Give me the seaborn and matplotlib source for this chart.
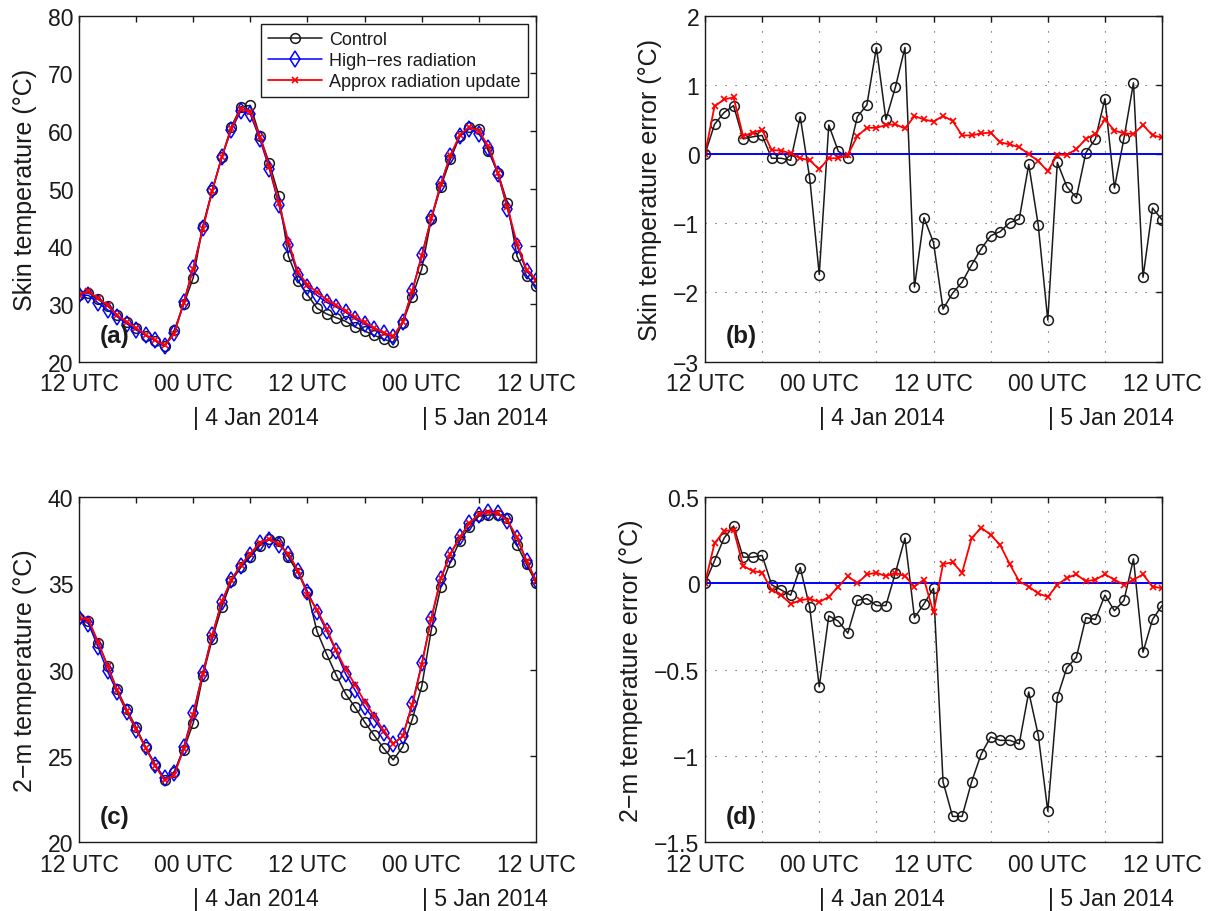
import numpy as np
import matplotlib
matplotlib.use("Agg")
import matplotlib.pyplot as plt
from matplotlib.ticker import FuncFormatter
import seaborn as sns

# hours after 12 UTC 3 Jan 2014, hourly output
hours = np.arange(49)

# skin temperature from the high-res radiation run (degC)
skin_hires = [31.6, 31.5, 30.2, 29.0, 27.8, 26.6, 25.5, 24.6, 23.7, 22.8,
              24.9, 30.3, 36.3, 43.1, 49.7, 55.5, 60.2, 63.5, 62.9, 58.6,
              53.4, 47.2, 40.2, 35.0, 32.9, 31.5, 30.3, 29.5, 28.6, 27.4,
              26.5, 25.7, 24.9, 24.3, 26.9, 32.3, 38.5, 44.9, 50.8, 55.7,
              59.1, 60.4, 59.5, 57.0, 52.5, 46.5, 40.1, 35.7, 34.0]
# errors relative to high-res run (panel b)
skin_err_control = [0.0, 0.43, 0.60, 0.70, 0.22, 0.25, 0.27, -0.06, -0.06, -0.09,
                    0.54, -0.35, -1.74, 0.42, 0.04, -0.05, 0.54, 0.71, 1.54, 0.50,
                    0.97, 1.54, -1.92, -0.92, -1.28, -2.24, -2.01, -1.85, -1.60, -1.37,
                    -1.18, -1.12, -0.99, -0.94, -0.15, -1.03, -2.40, -0.12, -0.47, -0.63,
                    0.02, 0.22, 0.80, -0.49, 0.23, 1.03, -1.78, -0.78, -0.95]
skin_err_approx = [0.0, 0.69, 0.79, 0.82, 0.26, 0.31, 0.35, 0.06, 0.05, 0.01,
                   -0.06, -0.09, -0.22, -0.06, -0.06, -0.01, 0.26, 0.38, 0.38, 0.42,
                   0.43, 0.37, 0.55, 0.50, 0.47, 0.55, 0.48, 0.27, 0.27, 0.30,
                   0.31, 0.17, 0.14, 0.10, 0.00, -0.10, -0.25, -0.01, -0.01, 0.07,
                   0.22, 0.29, 0.50, 0.34, 0.30, 0.29, 0.42, 0.27, 0.24]

# 2-m temperature from the high-res radiation run (degC)
t2m_hires = [33.0, 32.65, 31.3, 29.9, 28.7, 27.55, 26.5, 25.5, 24.5, 23.7,
             24.0, 25.5, 27.5, 29.8, 32.0, 33.9, 35.2, 36.0, 36.65, 37.3,
             37.5, 37.2, 36.7, 35.7, 34.5, 33.35, 32.25, 31.05, 29.75, 28.8,
             27.85, 27.1, 26.35, 25.7, 26.15, 28.0, 30.35, 32.95, 35.25, 36.65,
             37.65, 38.45, 38.95, 39.1, 39.05, 38.6, 37.6, 36.3, 35.15]
# errors relative to high-res run (panel d)
t2m_err_control = [0.0, 0.13, 0.26, 0.33, 0.15, 0.15, 0.16, -0.01, -0.04, -0.07,
                   0.09, -0.14, -0.60, -0.19, -0.22, -0.29, -0.10, -0.09, -0.13, -0.13,
                   0.06, 0.26, -0.20, -0.12, -0.03, -1.15, -1.35, -1.35, -1.15, -0.99,
                   -0.89, -0.91, -0.91, -0.93, -0.63, -0.88, -1.32, -0.66, -0.49, -0.43,
                   -0.20, -0.21, -0.07, -0.16, -0.10, 0.14, -0.40, -0.21, -0.13]
t2m_err_approx = [0.0, 0.23, 0.30, 0.31, 0.10, 0.07, 0.06, -0.04, -0.07, -0.12,
                  -0.10, -0.09, -0.11, -0.08, -0.02, 0.04, 0.00, 0.05, 0.06, 0.04,
                  0.06, 0.04, -0.02, 0.02, -0.17, 0.11, 0.12, 0.06, 0.26, 0.32,
                  0.28, 0.22, 0.11, 0.01, -0.02, -0.06, -0.08, -0.01, 0.03, 0.05,
                  0.01, 0.02, 0.05, 0.02, -0.01, 0.02, 0.05, -0.02, -0.03]

xtick_hours = [0, 6, 12, 18, 24, 30, 36, 42, 48]
xtick_labels = ["12 UTC", "", "00 UTC", "", "12 UTC", "", "00 UTC", "", "12 UTC"]
date_hours = [12, 36]
date_labels = ["| 4 Jan 2014", "| 5 Jan 2014"]
series_names = ["Control", "High\u2212res radiation", "Approx radiation update"]

# control / approx = high-res + their error
skin_hires = np.array(skin_hires)
t2m_hires = np.array(t2m_hires)
skin_control = skin_hires + np.array(skin_err_control)
skin_approx = skin_hires + np.array(skin_err_approx)
t2m_control = t2m_hires + np.array(t2m_err_control)
t2m_approx = t2m_hires + np.array(t2m_err_approx)

sns.set_theme(style="white")
plt.rcParams["font.family"] = ["Liberation Sans", "DejaVu Sans"]
plt.rcParams["axes.unicode_minus"] = True

TICK_FS = 16.6
LABEL_FS = 18


def draw_three(ax, control, hires, approx, hires_markers=True, labels=None):
    labels = labels or [None, None, None]
    sns.lineplot(x=hours, y=control, ax=ax, color="k", linewidth=1.1,
                 marker="o", markersize=7, markerfacecolor="none",
                 markeredgecolor="k", markeredgewidth=1.1, errorbar=None,
                 label=labels[0])
    if hires_markers:
        sns.lineplot(x=hours, y=hires, ax=ax, color="#0000ff", linewidth=1.1,
                     marker="d", markersize=8, markerfacecolor="none",
                     markeredgecolor="#0000ff", markeredgewidth=1.1,
                     errorbar=None, label=labels[1])
    else:
        sns.lineplot(x=hours, y=hires, ax=ax, color="#0000ff", linewidth=1.4,
                     errorbar=None, label=labels[1])
    sns.lineplot(x=hours, y=approx, ax=ax, color="#ff0000", linewidth=1.3,
                 marker="x", markersize=4.5, markeredgecolor="#ff0000",
                 markeredgewidth=1.2, errorbar=None, label=labels[2])


def style_axes(ax, ylim, yticks, ylabel, tag, grid):
    ax.set_xlim(0, 48)
    ax.set_ylim(*ylim)
    ax.set_xticks(xtick_hours)
    ax.set_xticklabels(xtick_labels)
    ax.set_yticks(yticks)
    ax.yaxis.set_major_formatter(
        FuncFormatter(lambda v, p: f"{v:g}".replace("-", "\u2212")))
    ax.tick_params(direction="in", top=True, right=True, length=4, width=1,
                   labelsize=TICK_FS, colors="k")
    ax.tick_params(axis="x", pad=7.5)
    ax.tick_params(axis="y", pad=4)
    for s in ax.spines.values():
        s.set_color("k")
        s.set_linewidth(1)
    if grid:
        ax.set_axisbelow(True)
        ax.grid(True, color="0.3", linestyle=(0, (1, 8)), linewidth=0.8)
    else:
        ax.grid(False)
    ax.set_xlabel("")
    ax.set_ylabel(ylabel, fontsize=LABEL_FS, labelpad=8, color="k")
    for h, lab in zip(date_hours, date_labels):
        ax.text(h, -0.162, lab, transform=ax.get_xaxis_transform(),
                ha="left", va="center", fontsize=TICK_FS, color="k")
    ax.text(0.045, 0.075, tag, transform=ax.transAxes, fontsize=17.5,
            fontweight="bold", va="center", ha="left", color="k")
    if ax.get_legend() is not None:
        ax.get_legend().remove()


fig = plt.figure(figsize=(12.13, 9.12), dpi=100)
ax_a = fig.add_axes([0.0651, 0.6023, 0.3768, 0.3794])
ax_b = fig.add_axes([0.5812, 0.6023, 0.3768, 0.3794])
ax_c = fig.add_axes([0.0651, 0.0753, 0.3768, 0.3790])
ax_d = fig.add_axes([0.5812, 0.0753, 0.3768, 0.3790])

# (a) skin temperature
draw_three(ax_a, skin_control, skin_hires, skin_approx, labels=series_names)
style_axes(ax_a, (20, 80), [20, 30, 40, 50, 60, 70, 80],
           "Skin temperature (\u00b0C)", "(a)", grid=False)
leg = ax_a.legend(loc="upper right", fontsize=13, frameon=True,
                  fancybox=False, edgecolor="k", framealpha=1,
                  handlelength=3.0, handletextpad=0.4, labelspacing=0.22,
                  borderaxespad=0.45, borderpad=0.4)
leg.get_frame().set_linewidth(1)
for t in leg.get_texts():
    t.set_color("k")

# (b) skin temperature error
draw_three(ax_b, skin_control - skin_hires, skin_hires - skin_hires,
           skin_approx - skin_hires, hires_markers=False)
style_axes(ax_b, (-3, 2), [-3, -2, -1, 0, 1, 2],
           "Skin temperature error (\u00b0C)", "(b)", grid=True)

# (c) 2-m temperature
draw_three(ax_c, t2m_control, t2m_hires, t2m_approx)
style_axes(ax_c, (20, 40), [20, 25, 30, 35, 40],
           "2\u2212m temperature (\u00b0C)", "(c)", grid=False)

# (d) 2-m temperature error
draw_three(ax_d, t2m_control - t2m_hires, t2m_hires - t2m_hires,
           t2m_approx - t2m_hires, hires_markers=False)
style_axes(ax_d, (-1.5, 0.5), [-1.5, -1, -0.5, 0, 0.5],
           "2\u2212m temperature error (\u00b0C)", "(d)", grid=True)

fig.savefig("out.png", dpi=100, facecolor="white")
